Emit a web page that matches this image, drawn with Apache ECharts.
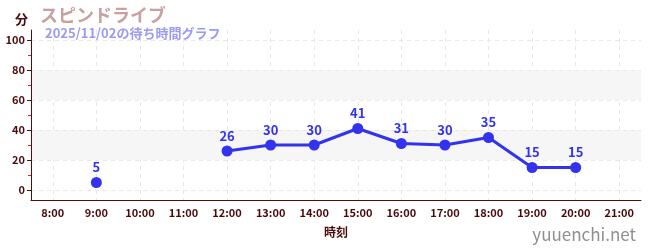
<!DOCTYPE html>
<html><head><meta charset="utf-8">
<script src="https://cdn.jsdelivr.net/npm/echarts@6/dist/echarts.min.js"></script>
<style>html,body{margin:0;padding:0;background:#fff}#c{width:650px;height:250px}</style>
</head><body><div id="c"></div>
<script>
const hours = ['8:00','9:00','10:00','11:00','12:00','13:00','14:00','15:00','16:00','17:00','18:00','19:00','20:00','21:00'];
const waits = [null,5,null,null,26,30,30,41,31,30,35,15,15,null];
const yTicks = [0,20,40,60,80,100];
const bands = [[20,40],[60,80]];
const titleText = 'スピンドライブ';
const subText = '2025/11/02の待ち時間グラフ';
const yName = '分';
const xName = '時刻';
const site = 'yuuenchi.net';

const F = '"Noto Sans CJK JP","Noto Sans",sans-serif';
const maroon = '#4a0a0a';
const chart = echarts.init(document.getElementById('c'), null, {renderer:'canvas'});
chart.setOption({
  animation:false,
  textStyle:{fontFamily:F},
  title:[
    {text:titleText,left:35,top:1,textStyle:{fontFamily:F,fontSize:18,fontWeight:'bold',color:'#c9a0a0'}},
    {text:subText,left:40,top:22,textStyle:{fontFamily:F,fontSize:13,fontWeight:'bold',color:'#9b9bf5'}},
    {text:yName,left:10,top:8,textStyle:{fontFamily:F,fontSize:13,fontWeight:'bold',color:maroon}},
    {text:site,right:9,top:221,textStyle:{fontFamily:F,fontSize:17,fontWeight:'normal',color:'#8f8f8f'}}
  ],
  grid:{left:31,right:9,top:30,bottom:50},
  xAxis:{
    type:'category',data:hours,boundaryGap:true,z:0,
    name:xName,nameLocation:'middle',nameGap:26,
    nameTextStyle:{fontFamily:F,fontSize:12,fontWeight:'bold',color:maroon},
    axisLine:{onZero:false,lineStyle:{color:'#5a0a0a',width:1}},
    axisTick:{alignWithLabel:true,length:4,lineStyle:{color:'#333'}},
    axisLabel:{color:maroon,fontSize:11,fontWeight:'bold',margin:7,fontFamily:F},
    splitLine:{show:true,alignWithLabel:true,lineStyle:{color:'#e8e8e8',type:[4,4]}}
  },
  yAxis:{
    type:'value',min:-20/3,max:320/3,splitNumber:5,z:2,
    axisLine:{show:true,lineStyle:{color:'#5a0a0a',width:1}},
    axisTick:{show:true,length:4,customValues:yTicks,lineStyle:{color:'#222'}},
    minorTick:{show:true,splitNumber:2,length:3,lineStyle:{color:'#e02020'}},
    axisLabel:{customValues:yTicks,color:maroon,fontSize:11,fontWeight:'bold',margin:6,fontFamily:F},
    splitLine:{show:true,lineStyle:{color:'#e8e8e8',type:[4,4]}},
    splitArea:{show:false}
  },
  series:[{
    type:'line',data:waits,connectNulls:false,
    symbol:'circle',symbolSize:11,
    lineStyle:{color:'#3333ee',width:3},
    itemStyle:{color:'#3333ee'},
    label:{show:true,position:'top',distance:3,color:'#3333ee',fontSize:13,fontWeight:'bold',fontFamily:F},
    markArea:{silent:true,z:1,itemStyle:{color:'#f6f6f6'},
      data:bands.map(b=>[{yAxis:b[0]},{yAxis:b[1]}])},
    z:3
  }]
});
</script></body></html>
